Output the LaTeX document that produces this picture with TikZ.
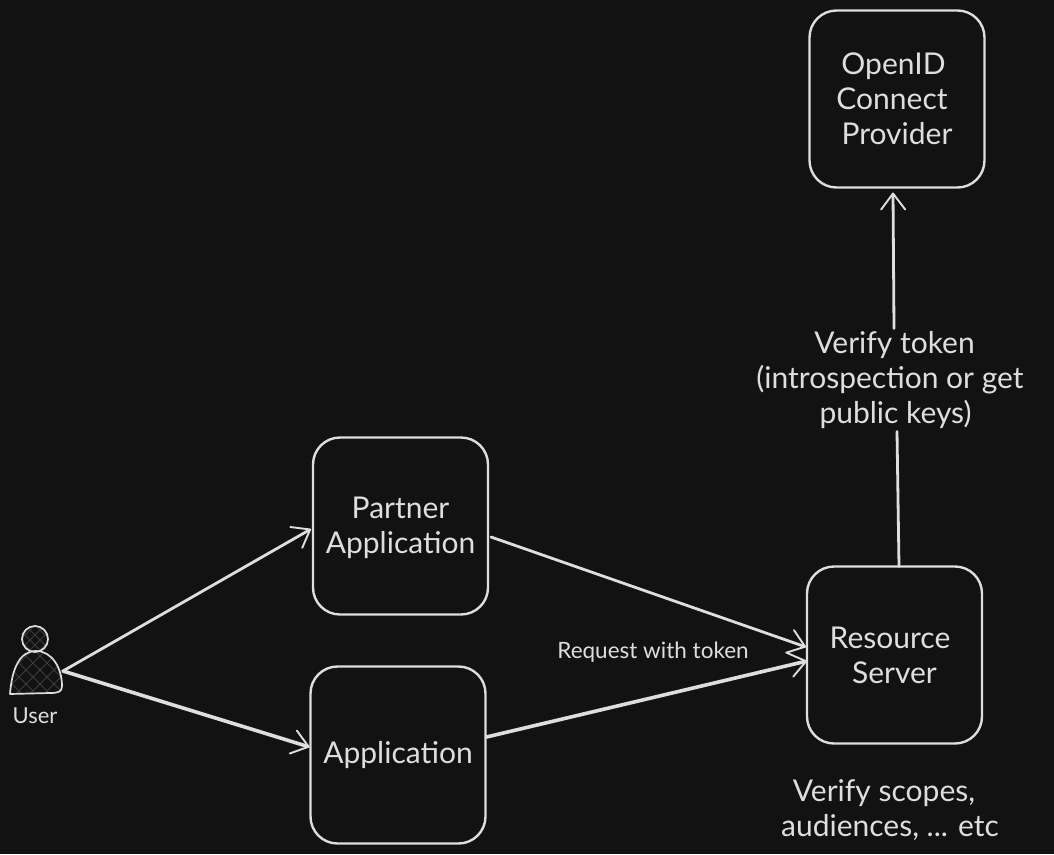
\documentclass[tikz,border=0pt]{standalone}
\usepackage{fontspec}
\setmainfont{Lato}
\usetikzlibrary{arrows.meta}
\definecolor{bgc}{HTML}{121212}
\definecolor{ink}{HTML}{DEDEDE}
\definecolor{hatch}{HTML}{3C3C3E}
\tikzset{
  every node/.style={text=ink,inner sep=0pt,outer sep=0pt},
  boxnode/.style={draw=ink,line width=2.4pt,rounded corners=27pt,fill=bgc,align=center,minimum width=175pt,minimum height=177pt,font=\fontsize{30}{35}\selectfont},
  lab/.style={align=center,font=\fontsize{30}{35}\selectfont},
  smalllab/.style={font=\fontsize{22.5}{24}\selectfont},
  flow/.style={draw=ink,line width=2.8pt,line cap=round},
  tip/.style={-{Straight Barb[length=16pt,width=24pt,line width=1.9pt,round]}},
  heavy/.style={line width=3.6pt},
}
\begin{document}
\begin{tikzpicture}[x=1pt,y=-1pt]
\useasboundingbox[fill=bgc] (0,0) rectangle (1054,854);
% boxes
\node[boxnode] (partner) at (400.5,526) {\rule{0pt}{26pt}Partner\\Application};
\node[boxnode] (app) at (398,755) {Application};
\node[boxnode] (rs) at (894.5,655) {\hspace*{-9pt}Resource\\Server};
\node[boxnode] (op) at (897,99) {\hspace*{-7pt}OpenID\\\hspace*{-10pt}Connect\\Provider};
% labels
\node[lab] (verify) at (890,380) {\hspace*{9pt}Verify token\\(introspection or get\\\hspace*{11pt}public keys)};
\node[lab] (scopes) at (890,810) {\hspace*{-12pt}Verify scopes,\\audiences, ... etc};
\node[smalllab] (req) at (653,652) {Request with token};
% user
\begin{scope}
  \clip (35,639) circle (13pt);
  \foreach \i in {-60,-50,...,120} {
    \draw[hatch,line width=1pt] (\i,620) -- ++(60,60);
    \draw[hatch,line width=1pt] (\i,680) -- ++(60,-60);
  }
\end{scope}
\begin{scope}
  \clip (10,694) .. controls (12,668) and (20,651) .. (36,651) .. controls (52,651) and (62,668) .. (62,686) .. controls (62,692) and (58,693) .. (50,693) -- cycle;
  \foreach \i in {-60,-46,...,120} {
    \draw[hatch,line width=1pt] (\i,640) -- ++(60,60);
    \draw[hatch,line width=1pt] (\i,700) -- ++(60,-60);
  }
\end{scope}
\node[draw=ink,line width=1.7pt,circle,minimum size=26pt] (head) at (35,639) {};
\draw[ink,line width=1.7pt,line join=round] (10,694) .. controls (12,668) and (20,651) .. (36,651) .. controls (52,651) and (62,668) .. (62,686) .. controls (62,692) and (58,693) .. (50,693) -- cycle;
\coordinate (userout) at (63,671);
\node[font=\fontsize{22}{24}\selectfont] (user) at (35,716) {User};
% connectors
\draw[flow,tip] (userout) -- ([xshift=-2pt,yshift=-3pt]partner.west);
\draw[flow,heavy,tip] (userout) -- ([xshift=-1pt,yshift=8pt]app.west);
\draw[flow,tip] ([xshift=3pt,yshift=-11pt]partner.east) -- ([xshift=-1pt,yshift=8pt]rs.west);
\draw[flow,heavy,tip] ([xshift=1pt,yshift=18pt]app.east) -- ([yshift=-6pt]rs.west);
\draw[flow] ([xshift=4.5pt]rs.north) -- ([xshift=2.5pt,yshift=-3pt]verify.south -| rs.north);
\draw[flow,tip] ([xshift=-3pt,yshift=3pt]verify.north -| op.south) -- ([xshift=-4pt,yshift=-5pt]op.south);
\end{tikzpicture}
\end{document}
